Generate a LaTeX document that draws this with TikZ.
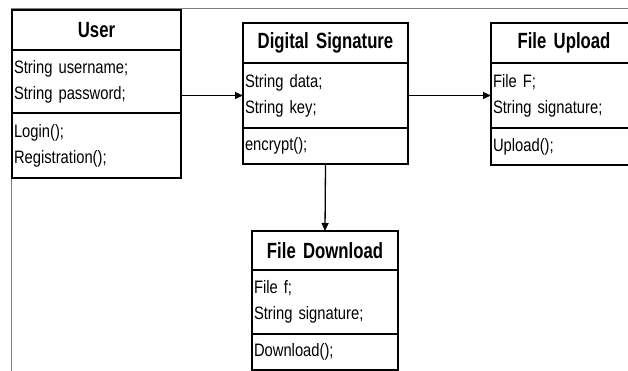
\documentclass[tikz,border=0pt]{standalone}
\usepackage{fontspec}
\setmainfont{Liberation Sans}[FakeStretch=0.82]
\newfontfamily\classfont{Liberation Sans}[FakeStretch=0.76]
\usetikzlibrary{positioning,arrows.meta}

\tikzset{
    classtitle/.style={draw=black, line width=1.6pt, outer sep=0pt, inner xsep=3pt, inner ysep=0pt,
        align=center, font=\classfont\bfseries\fontsize{22}{26}\selectfont},
    classpart/.style={draw=black, line width=1.6pt, outer sep=0pt, inner xsep=2pt, inner ysep=0pt,
        align=left, font=\fontsize{18}{26}\selectfont},
    assoc/.style={black, line width=1.3pt, -{Triangle[length=8pt,width=7pt]}}
}

\begin{document}
\begin{tikzpicture}[x=1pt, y=-1pt]
            \useasboundingbox (0,0) rectangle (628,371);
            \clip (0,0) rectangle (628,371);

            \draw[gray, line width=0.8pt] (11,371) -- (11,8) -- (628,8);

            \node[classtitle, text width=163pt, minimum height=40pt, anchor=north west] (user-title) at (12,10) {User};
            \node[classpart, text width=165pt, minimum height=63pt, below=0pt of user-title] (user-attr) {String username;\\String password;};
            \node[classpart, text width=165pt, minimum height=65pt, below=0pt of user-attr] (user-ops) {Login();\\Registration();};

            \node[classtitle, text width=159pt, minimum height=40pt, anchor=north west] (ds-title) at (243,23) {Digital Signature};
            \node[classpart, text width=161pt, minimum height=65pt, below=0pt of ds-title] (ds-attr) {String data;\\String key;};
            \node[classpart, text width=161pt, minimum height=36pt, below=0pt of ds-attr] (ds-ops) {encrypt();};

            \node[classtitle, text width=140pt, minimum height=40pt, anchor=north west] (fu-title) at (491,23) {File Upload};
            \node[classpart, text width=142pt, minimum height=65pt, below=0pt of fu-title] (fu-attr) {File F;\\String signature;};
            \node[classpart, text width=142pt, minimum height=37pt, below=0pt of fu-attr] (fu-ops) {Upload();};

            \node[classtitle, text width=140pt, minimum height=39pt, anchor=north west] (fd-title) at (252,231) {File Download};
            \node[classpart, text width=142pt, minimum height=64pt, below=0pt of fd-title] (fd-attr) {File f;\\String signature;};
            \node[classpart, text width=142pt, minimum height=36pt, below=0pt of fd-attr] (fd-ops) {Download();};

            \draw[assoc] (user-attr.east |- ds-attr.west) -- (ds-attr.west);
            \draw[assoc] (ds-attr.east) -- (fu-attr.west);
            \draw[assoc] (ds-ops.south) -- (fd-title.north);
        \end{tikzpicture}
\end{document}
